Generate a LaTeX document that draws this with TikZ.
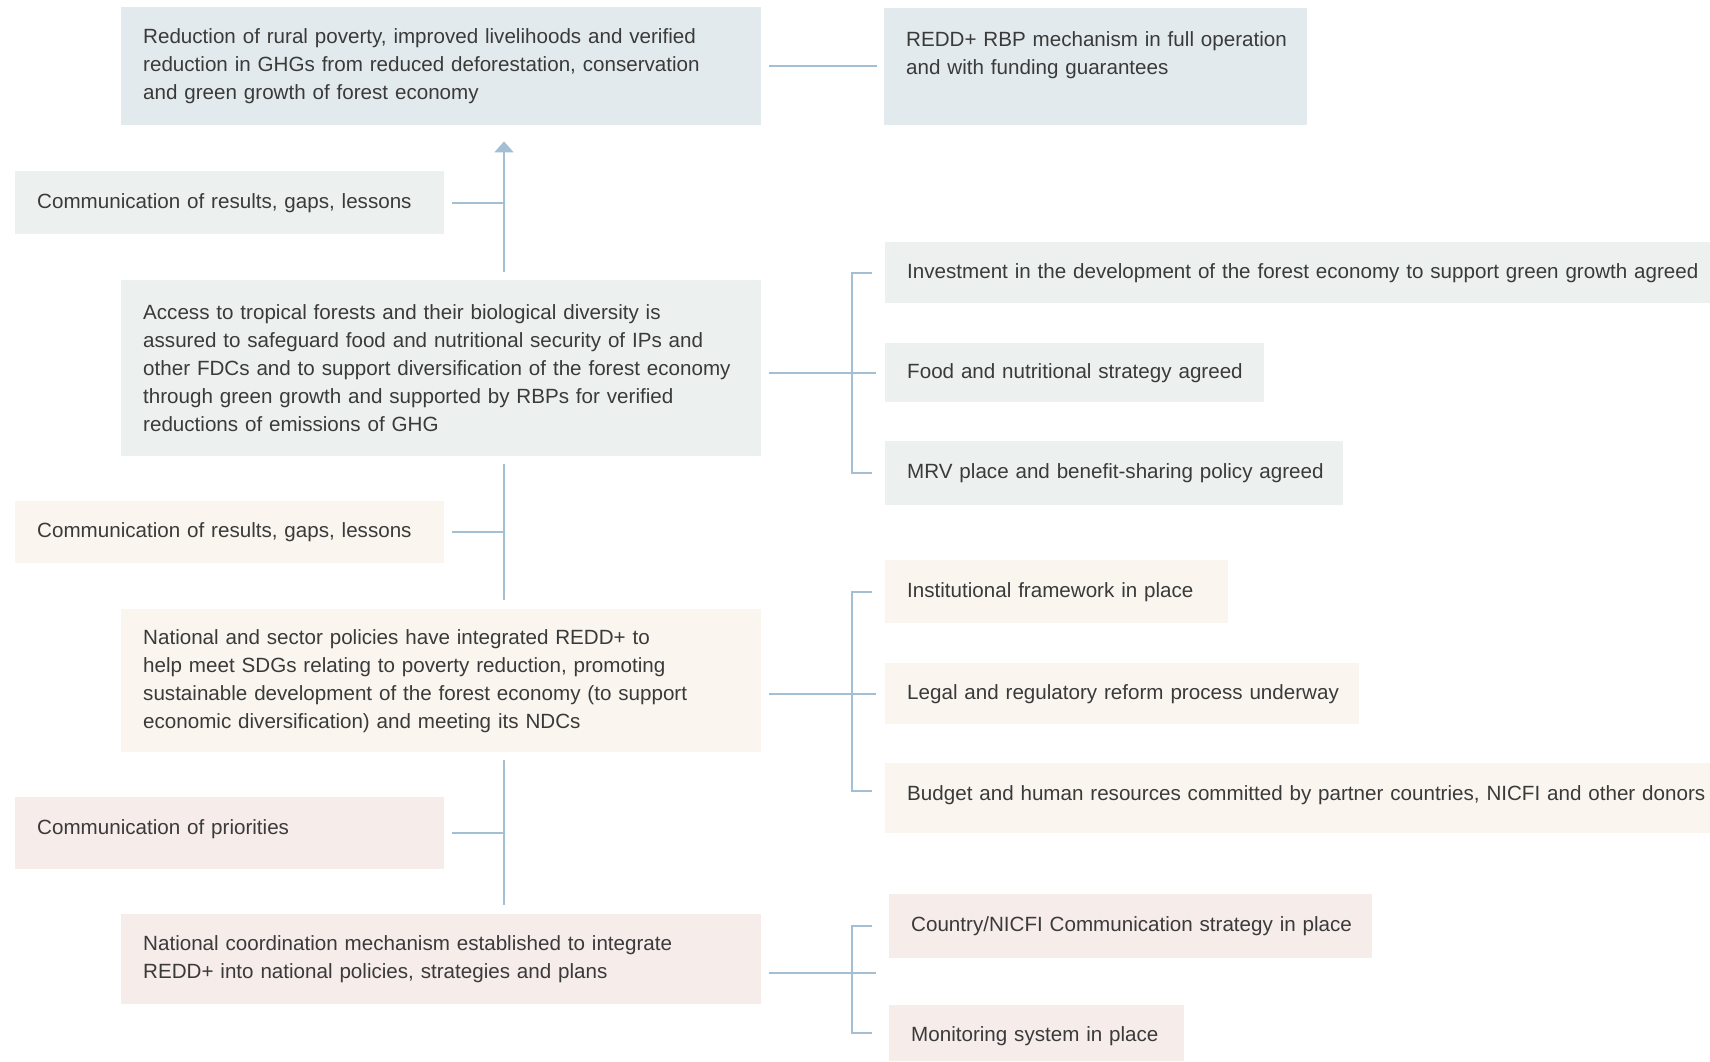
\documentclass[tikz,border=0pt]{standalone}
\usepackage{fontspec}
\setmainfont{Liberation Sans}
\usetikzlibrary{calc,arrows.meta}
\definecolor{bxblue}{HTML}{E3EAED}
\definecolor{bxgreen}{HTML}{ECF1EF}
\definecolor{bxcream}{HTML}{FAF6EF}
\definecolor{bxpink}{HTML}{F6ECEA}
\definecolor{lncol}{HTML}{A3BFD3}
\definecolor{txcol}{HTML}{3A3A3A}
\newcommand{\tline}[1]{\mbox{#1}}
\newcommand{\tshift}[2]{\raisebox{#1}[\height][\depth]{#2}}
\begin{document}
\begin{tikzpicture}[x=1pt,y=1pt,
  box/.style={rectangle, inner xsep=22pt, inner ysep=0pt, anchor=north west, align=left,
    text=txcol, font=\fontsize{20.6pt}{28pt}\selectfont},
  conn/.style={draw=lncol, line width=2pt},
  arr/.style={conn, -{Triangle[length=11pt,width=19pt]}}]
\useasboundingbox (0,0) rectangle (1710,-1061);
\fill[white] (0,0) rectangle (1710,-1061);
% level 1
\node[box, fill=bxblue, minimum width=640pt, minimum height=118pt, text width=596pt] (goal) at (121,-7)
  {\tline{Reduction of rural poverty, improved livelihoods and verified}\\\tline{reduction in GHGs from reduced deforestation, conservation}\\\tline{and green growth of forest economy}};
\node[box, fill=bxblue, minimum width=423pt, minimum height=117pt, text width=379pt] (rbp) at (884,-8)
  {\tline{REDD+ RBP mechanism in full operation}\\\tline{and with funding guarantees}\\\tline{}};
% level 2
\node[box, fill=bxgreen, minimum width=429pt, minimum height=63pt, text width=385pt] (c1) at (15,-171)
  {\tline{Communication of results, gaps, lessons}};
\node[box, fill=bxgreen, minimum width=640pt, minimum height=176pt, text width=596pt] (o2) at (121,-280)
  {\tline{Access to tropical forests and their biological diversity is}\\\tline{assured to safeguard food and nutritional security of IPs and}\\\tline{other FDCs and to support diversification of the forest economy}\\\tline{through green growth and supported by RBPs for verified}\\\tline{reductions of emissions of GHG}};
\node[box, fill=bxgreen, minimum width=825pt, minimum height=61pt, text width=781pt] (r2a) at (885,-242)
  {\tline{Investment in the development of the forest economy to support green growth agreed}};
\node[box, fill=bxgreen, minimum width=379pt, minimum height=59pt, text width=335pt] (r2b) at (885,-343)
  {\tline{Food and nutritional strategy agreed}};
\node[box, fill=bxgreen, minimum width=458pt, minimum height=64pt, text width=414pt] (r2c) at (885,-441)
  {\tline{MRV place and benefit-sharing policy agreed}};
% level 3
\node[box, fill=bxcream, minimum width=429pt, minimum height=62pt, text width=385pt] (c2) at (15,-501)
  {\tline{Communication of results, gaps, lessons}};
\node[box, fill=bxcream, minimum width=640pt, minimum height=143pt, text width=596pt] (o3) at (121,-609)
  {\tline{National and sector policies have integrated REDD+ to}\\\tline{help meet SDGs relating to poverty reduction, promoting}\\\tline{sustainable development of the forest economy (to support}\\\tline{economic diversification) and meeting its NDCs}};
\node[box, fill=bxcream, minimum width=343pt, minimum height=63pt, text width=299pt] (r3a) at (885,-560)
  {\tline{Institutional framework in place}};
\node[box, fill=bxcream, minimum width=474pt, minimum height=61pt, text width=430pt] (r3b) at (885,-663)
  {\tline{Legal and regulatory reform process underway}};
\node[box, fill=bxcream, minimum width=825pt, minimum height=70pt, text width=781pt] (r3c) at (885,-763)
  {\tshift{3pt}{\tline{Budget and human resources committed by partner countries, NICFI and other donors}}};
% level 4
\node[box, fill=bxpink, minimum width=429pt, minimum height=72pt, text width=385pt] (c3) at (15,-797)
  {\tshift{4pt}{\tline{Communication of priorities}}};
\node[box, fill=bxpink, minimum width=640pt, minimum height=90pt, text width=596pt] (o4) at (121,-914)
  {\tline{National coordination mechanism established to integrate}\\\tline{REDD+ into national policies, strategies and plans}};
\node[box, fill=bxpink, minimum width=483pt, minimum height=64pt, text width=439pt] (r4a) at (889,-894)
  {\tline{Country/NICFI Communication strategy in place}};
\node[box, fill=bxpink, minimum width=295pt, minimum height=56pt, text width=251pt] (r4b) at (889,-1005)
  {\tshift{-3pt}{\tline{Monitoring system in place}}};
% spine
\coordinate (sp) at (504,0);
\draw[arr] ($(o2.north -| sp)+(0,8)$) -- ($(goal.south -| sp)+(0,-16)$);
\draw[conn] ($(o2.south -| sp)+(0,-8)$) -- ($(o3.north -| sp)+(0,9)$);
\draw[conn] ($(o3.south -| sp)+(0,-8)$) -- ($(o4.north -| sp)+(0,9)$);
\draw[conn] ($(c1.east)+(8,0)$) -- (c1.east -| sp);
\draw[conn] ($(c2.east)+(8,0)$) -- (c2.east -| sp);
\draw[conn] ($(c3.east)+(8,0)$) -- (c3.east -| sp);
% right links
\draw[conn] ($(goal.east)+(8,0)$) -- ($(goal.east -| rbp.west)+(-7,0)$);
\draw[conn] ($(o2.east |- r2b.west)+(8,0)$) -- ($(r2b.west)+(-9,0)$);
\draw[conn] ($(r2a.west)+(-13,0)$) -- ++(-20,0) |- ($(r2c.west)+(-13,0)$);
\draw[conn] ($(o3.east |- r3b.west)+(8,0)$) -- ($(r3b.west)+(-9,0)$);
\draw[conn] ($(r3a.west)+(-13,0)$) -- ++(-20,0) |- ($(r3c.west)+(-13,7)$);
\draw[conn] ($(o4.east)+(8,-14)$) -- ($(o4.east -| r4a.west)+(-13,-14)$);
\draw[conn] ($(r4a.west)+(-17,0)$) -- ++(-20,0) |- ($(r4b.west)+(-17,0)$);
\end{tikzpicture}
\end{document}
